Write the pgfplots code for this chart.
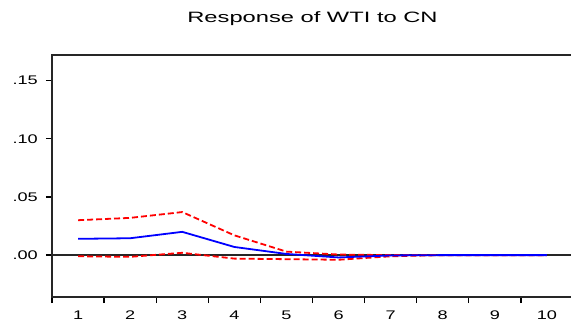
\documentclass[border=0pt]{standalone}
\usepackage{pgfplots}
\pgfplotsset{compat=1.18}
\usepackage{fontspec}
\setmainfont{Liberation Sans}
\newfontfamily\titlefont[FakeStretch=1.58]{Liberation Sans}
\newfontfamily\tickfont[FakeStretch=1.45]{Liberation Sans}
\begin{document}
\begin{tikzpicture}
\path[use as bounding box] (-52bp,-26bp) rectangle (519bp,297bp);
\begin{axis}[
  at={(0bp,0bp)}, anchor=south west,
  scale only axis, width=521bp, height=242bp,
  xmin=0.5, xmax=10.5, ymin=-0.036, ymax=0.172,
  axis line style={black!85, line width=1.6pt},
  xtick={0.5,1.5,...,9.5},
  xticklabels={1,2,3,4,5,6,7,8,9,10},
  ytick={0,0.05,0.10,0.15},
  yticklabels={.00,.05,.10,.15},
  tick style={black, line width=1.3pt},
  tick align=outside, major tick length=6bp,
  xtick pos=bottom, ytick pos=left,
  ticklabel style={font=\tickfont\fontsize{12.5bp}{14bp}\selectfont, inner sep=0pt},
  xticklabel style={anchor=north, xshift=26.05bp, yshift=-8bp},
  yticklabel style={anchor=east, xshift=-8bp},
  title={\titlefont\fontsize{15bp}{17bp}\selectfont Response of WTI to CN},
  title style={anchor=base, yshift=27bp},
  clip=false,
]
\addplot[black!85, line width=1.5pt, forget plot] coordinates {(0.5,0) (10.5,0)};
\addplot[red, line width=1.8pt, dash pattern=on 6bp off 3bp] coordinates {
(1,0.030) (2,0.032) (3,0.037) (4,0.017) (5,0.003) (6,0.0005) (7,0.0) (8,0) (9,0) (10,0)};
\addplot[red, line width=1.8pt, dash pattern=on 6bp off 3bp] coordinates {
(1,-0.001) (2,-0.0015) (3,0.002) (4,-0.003) (5,-0.0035) (6,-0.004) (7,-0.001) (8,0) (9,0) (10,0)};
\addplot[blue, line width=1.8pt] coordinates {
(1,0.014) (2,0.0145) (3,0.020) (4,0.007) (5,0.001) (6,-0.002) (7,-0.0003) (8,0) (9,0) (10,0)};
\end{axis}
\end{tikzpicture}
\end{document}
